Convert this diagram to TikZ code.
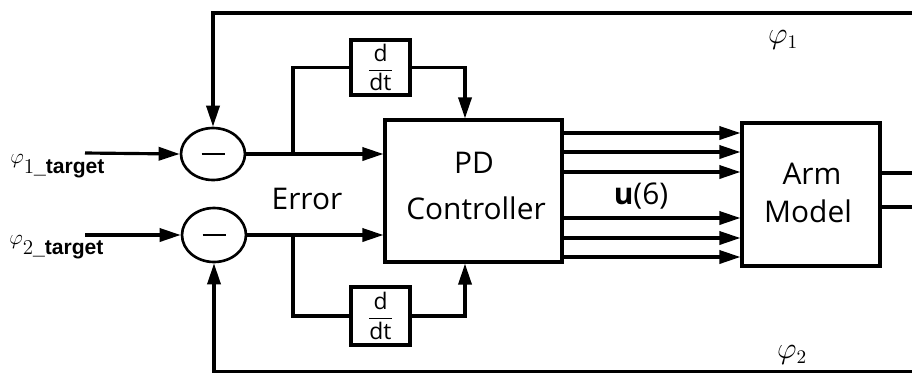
\documentclass[tikz,border=0pt]{standalone}
\usepackage{amsmath}
\usepackage{fontspec}
\setmainfont{Open Sans}
\newfontfamily\arialfont{Liberation Sans}
\usetikzlibrary{calc,positioning,arrows.meta,shapes.geometric}

\tikzset{
  blk/.style={draw, line width=1.8pt, inner sep=0pt, align=center},
  arr/.style={-{Triangle[length=12pt,width=7.5pt]}, line width=1.8pt},
  ln/.style={line width=1.8pt}
}

\begin{document}
\begin{tikzpicture}[x=0.02cm, y=-0.02cm, font=\fontsize{17}{20}\selectfont]
\useasboundingbox (0,0) rectangle (912,373);
% difference points
\node[blk, ellipse, line width=1.5pt, minimum width=1.28cm, minimum height=1.04cm] (sub1) at (213,154) {\rule{0.46cm}{1.6pt}};
\node[blk, ellipse, line width=1.5pt, minimum width=1.28cm, minimum height=1.08cm] (sub2) at (214,235) {\rule{0.46cm}{1.6pt}};
% blocks
\node[blk, minimum width=3.54cm, minimum height=2.84cm] (pd) at (473.5,191) {};
\node at (474,163) {PD};
\node at (476,208) {Controller};
\node[blk, minimum width=2.76cm, minimum height=2.86cm] (arm) at (811,194.5) {};
\node at (812,174) {Arm};
\node at (808,211) {Model};
\node[blk, minimum width=1.18cm, minimum height=1.1cm, font=\fontsize{13}{13}\selectfont] (dt1) at (380.5,67.5) {$\dfrac{\text{d}}{\text{dt}}$};
\node[blk, minimum width=1.18cm, minimum height=1.16cm, font=\fontsize{13}{13}\selectfont] (dt2) at (380.5,316) {$\dfrac{\text{d}}{\text{dt}}$};
% labels
\node[anchor=west, inner sep=0pt] (tgt1) at (10,166) {\fontsize{13}{13}\selectfont$\varphi$\raisebox{-6pt}{\fontsize{12}{12}\selectfont$1$\arialfont\bfseries\_target}};
\node[anchor=west, inner sep=0pt] (tgt2) at (9,247) {\fontsize{13}{13}\selectfont$\varphi$\raisebox{-6pt}{\fontsize{12}{12}\selectfont$2$\arialfont\bfseries\_target}};
\node (err) at (307,199) {Error};
\node (u6) at (641,196) {\textbf{u}(6)};
\node[font=\fontsize{16}{16}\selectfont] (ph1) at (783,40) {$\varphi_1$};
\node[font=\fontsize{16}{16}\selectfont] (ph2) at (792,355) {$\varphi_2$};
% free ends
\coordinate (in1) at (85,153);
\coordinate (in2) at (85,235);
\coordinate (fbtop) at (912,13);
\coordinate (fbbot) at (912,371.5);
\coordinate (br1) at (293,154);
\coordinate (br2) at (293,235);
\coordinate (o1) at (912,173);
\coordinate (o2) at (912,207);
% inputs and feedback
\draw[arr] (in1) -- (sub1.west);
\draw[arr] (in2) -- (sub2.west);
\draw[arr] (fbtop) -| (sub1.north);
\draw[arr] (fbbot) -| (sub2.south);
% error signals
\draw[arr] (sub1.east) -- (sub1.east -| pd.west);
\draw[arr] (sub2.east) -- (sub2.east -| pd.west);
\draw[ln] (br1) |- (dt1.west);
\draw[ln] (br2) |- (dt2.west);
\draw[arr] (dt1.east) -| ([xshift=-0.17cm]pd.north);
\draw[arr] (dt2.east) -| ([xshift=-0.17cm]pd.south);
% control vector u
\foreach \y in {133,152,172,218,238,257}{
  \path (0,\y) coordinate (h);
  \draw[arr] (pd.east |- h) -- (arm.west |- h);
}
% arm outputs
\draw[ln] (arm.east |- o1) -- (o1);
\draw[ln] (arm.east |- o2) -- (o2);
\end{tikzpicture}
\end{document}
